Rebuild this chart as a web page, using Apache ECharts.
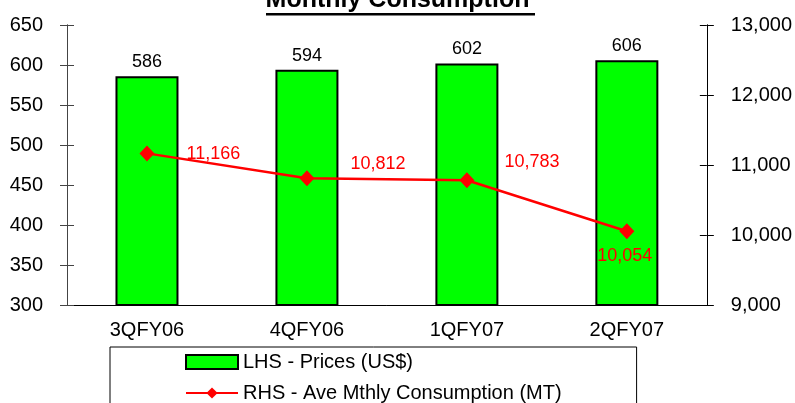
<!DOCTYPE html>
<html>
<head>
<meta charset="utf-8">
<script src="https://cdn.jsdelivr.net/npm/echarts@6/dist/echarts.min.js"></script>
<style>
html,body{margin:0;padding:0;background:#fff;}
#chart{width:795px;height:403px;}
</style>
</head>
<body>
<div id="chart"></div>
<script>
const titleText = 'Monthly Consumption';
const categories = ['3QFY06', '4QFY06', '1QFY07', '2QFY07'];
const prices = [586, 594, 602, 606];
const consumption = [11166, 10812, 10783, 10054];
const leftTicks = [300, 650, 50];
const rightTicks = [9000, 13000, 1000];
const seriesNames = ['LHS - Prices (US$)', 'RHS - Ave Mthly Consumption (MT)'];

// label placement for the red value labels (style only)
const lineLabelPlacement = [
  {position: 'right', distance: 32, offset: [0, 1]},
  {position: 'right', distance: 36, offset: [0, -14]},
  {position: 'right', distance: 30, offset: [0, -18]},
  {position: 'bottom', distance: 8, offset: [-2, 0]}
];

const FONT = 'Arial, "Liberation Sans", Helvetica, sans-serif';
const chart = echarts.init(document.getElementById('chart'), null, {renderer: 'canvas'});

function fmtThousands(v) { return String(v).replace(/\B(?=(\d{3})+(?!\d))/g, ','); }

const grid = {left: 67, right: 87, top: 25, bottom: 98, containLabel: false};

function yAx(pos, rng, show, inside, color, fmt) {
  return {
    type: 'value', position: pos, min: rng[0], max: rng[1], interval: rng[2],
    splitLine: {show: false},
    axisLine: {show: true, lineStyle: {color: color, width: 1}},
    axisTick: {show: true, inside: inside, length: 7, lineStyle: {color: color, width: 1}},
    axisLabel: {show: show, fontSize: 20, fontFamily: FONT, color: '#000', margin: 24, formatter: fmt},
  };
}

const option = {
  animation: false,
  backgroundColor: '#fff',
  grid: grid,
  graphic: [
    {type: 'text', left: 'center', top: -12, style: {text: titleText, font: 'bold 25px ' + FONT, fill: '#000'}},
    {type: 'rect', shape: {x: 266, y: 13, width: 269, height: 2.5}, style: {fill: '#000'}}
  ],
  legend: {
    orient: 'vertical', left: 110, top: 347, height: 120,
    padding: [5, 75, 8, 75],
    borderColor: '#000', borderWidth: 1,
    itemWidth: 52, itemHeight: 14, itemGap: 11,
    textStyle: {fontSize: 20, fontFamily: FONT, color: '#000'},
    data: [
      {name: seriesNames[0], icon: 'rect', itemStyle: {color: '#00FF00', borderColor: '#000', borderWidth: 2}},
      {name: seriesNames[1]}
    ]
  },
  xAxis: {
    type: 'category', data: categories,
    axisLine: {show: true, lineStyle: {color: '#000', width: 1}},
    axisTick: {show: false},
    axisLabel: {fontSize: 20, fontFamily: FONT, color: '#000', margin: 15},
    splitLine: {show: false}
  },
  yAxis: [
    yAx('left', leftTicks, true, false, '#444', v => String(v)),
    yAx('right', rightTicks, true, false, '#000', v => fmtThousands(v)),
    yAx('left', leftTicks, false, true, '#444', v => String(v)),
    yAx('right', rightTicks, false, true, '#000', v => fmtThousands(v))
  ],
  series: [
    {
      name: seriesNames[0], type: 'bar', yAxisIndex: 0, data: prices, barWidth: 63,
      itemStyle: {color: '#00FF00', borderColor: '#000', borderWidth: 2},
      label: {show: true, position: 'top', distance: 5, fontSize: 18, fontFamily: FONT, color: '#000'}
    },
    {
      name: seriesNames[1], type: 'line', yAxisIndex: 1, z: 5,
      data: consumption.map((v, i) => ({value: v, label: lineLabelPlacement[i]})),
      lineStyle: {color: '#FF0000', width: 2.5},
      itemStyle: {color: '#FF0000'},
      symbol: 'diamond', symbolSize: [15, 16],
      label: {show: true, fontSize: 18, fontFamily: FONT, color: '#FF0000', formatter: p => fmtThousands(p.value)}
    }
  ]
};
chart.setOption(option);
</script>
</body>
</html>
